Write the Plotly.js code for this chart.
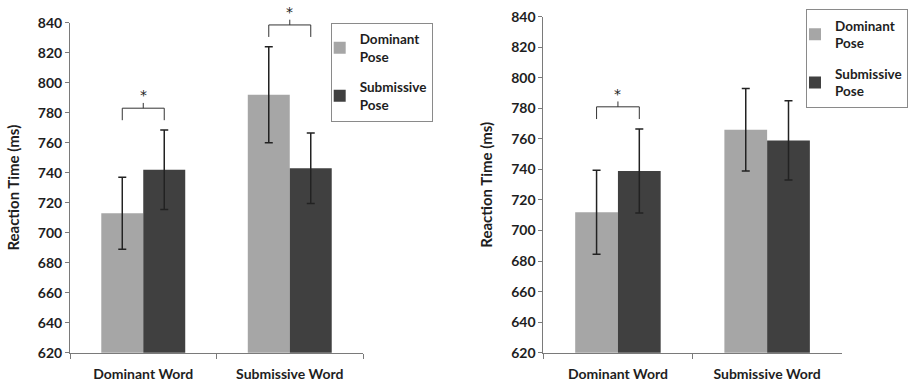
<!DOCTYPE html>
<html>
<head>
<meta charset="utf-8">
<script src="https://cdn.plot.ly/plotly-3.0.1.min.js"></script>
<style>html,body{margin:0;padding:0;background:#fff;}#chart{width:908px;height:384px;}</style>
</head>
<body>
<div id="chart"></div>
<script>
// ---- Data ----
const categories = ['Dominant Word', 'Submissive Word'];
const seriesNames = ['Dominant<br>Pose', 'Submissive<br>Pose'];

// Left panel
const left_dominantPose = [713, 792];
const left_dominantPoseErr = [24, 32];
const left_submissivePose = [742, 743];
const left_submissivePoseErr = [26.5, 23.5];
const left_significant = [true, true];

// Right panel
const right_dominantPose = [712, 766];
const right_dominantPoseErr = [27.5, 27];
const right_submissivePose = [739, 759];
const right_submissivePoseErr = [27.5, 26];
const right_significant = [true, false];

const yRange = [620, 840];
const yTitle = 'Reaction Time (ms)';

// ---- Styles ----
const FONT = 'Lato, Open Sans, DejaVu Sans, sans-serif';
const lightGray = '#a6a6a6';
const darkGray = '#404040';
const axisColor = '#7a7a7a';
const textColor = '#1e1e1e';

function barTrace(name, group, x, y, err, color, xa, ya, legendId) {
  return {
    type: 'bar', name: name, x: x, y: y, legendgroup: group,
    xaxis: xa, yaxis: ya, legend: legendId, showlegend: true,
    marker: {color: color, line: {width: 0}},
    error_y: {type: 'data', array: err, visible: true, color: '#222', thickness: 1.5, width: 4}
  };
}

const data = [
  barTrace(seriesNames[0], 'a', categories, left_dominantPose, left_dominantPoseErr, lightGray, 'x', 'y', 'legend'),
  barTrace(seriesNames[1], 'b', categories, left_submissivePose, left_submissivePoseErr, darkGray, 'x', 'y', 'legend'),
  barTrace(seriesNames[0], 'c', categories, right_dominantPose, right_dominantPoseErr, lightGray, 'x2', 'y2', 'legend2'),
  barTrace(seriesNames[1], 'd', categories, right_submissivePose, right_submissivePoseErr, darkGray, 'x2', 'y2', 'legend2')
];

const bargap = 0.427;
const halfBar = (1 - bargap) / 4; // offset of each bar centre from category centre

// significance brackets
const shapes = [];
const annotations = [];
function addBrackets(xa, ya, dom, domErr, sub, subErr, sig) {
  sig.forEach(function (s, i) {
    if (!s) return;
    const tip = Math.max(dom[i] + domErr[i], sub[i] + subErr[i]);
    const legBottom = tip + 6.5;
    const top = legBottom + 8;
    const frac = v => (v - yRange[0]) / (yRange[1] - yRange[0]);
    const yr = ya + ' domain';
    const line = {color: '#333', width: 1};
    shapes.push({type: 'line', xref: xa, yref: yr, x0: i - halfBar, x1: i - halfBar, y0: frac(legBottom), y1: frac(top), line: line});
    shapes.push({type: 'line', xref: xa, yref: yr, x0: i + halfBar, x1: i + halfBar, y0: frac(legBottom), y1: frac(top), line: line});
    shapes.push({type: 'line', xref: xa, yref: yr, x0: i - halfBar, x1: i + halfBar, y0: frac(top), y1: frac(top), line: line});
    shapes.push({type: 'line', xref: xa, yref: yr, x0: i, x1: i, y0: frac(top), y1: frac(top + 3.5), line: line});
    annotations.push({xref: xa, yref: yr, x: i, y: frac(top + 2), yanchor: 'bottom', text: '*', showarrow: false,
      font: {family: 'DejaVu Sans, sans-serif', size: 14, color: '#222'}});
  });
}
addBrackets('x', 'y', left_dominantPose, left_dominantPoseErr, left_submissivePose, left_submissivePoseErr, left_significant);
addBrackets('x2', 'y2', right_dominantPose, right_dominantPoseErr, right_submissivePose, right_submissivePoseErr, right_significant);

const tickFont = {family: FONT, size: 14, weight: 'bold', color: textColor};
function xAxis(domain, anchor) {
  return {
    domain: domain, anchor: anchor, type: 'category', range: [-0.5, 1.5],
    showline: true, linecolor: axisColor, linewidth: 1,
    ticks: 'outside', tickson: 'boundaries', ticklen: 5, tickcolor: axisColor,
    ticklabelstandoff: 8,
    showgrid: false, zeroline: false, tickfont: tickFont, fixedrange: true
  };
}
function yAxis(domain, anchor) {
  return {
    domain: domain, anchor: anchor, range: yRange, dtick: 20, tick0: 620,
    showline: true, linecolor: axisColor, linewidth: 1,
    ticks: 'outside', ticklen: 4, tickcolor: axisColor,
    showgrid: false, zeroline: false, tickfont: tickFont, fixedrange: true,
    title: {text: yTitle, font: {family: FONT, size: 15, weight: 'bold', color: textColor}, standoff: 14}
  };
}
const legendStyle = {
  xanchor: 'left', yanchor: 'top', bgcolor: '#fff', bordercolor: '#8a8a8a', borderwidth: 1,
  font: {family: FONT, size: 13.5, weight: 'bold', color: textColor}, traceorder: 'grouped',
  tracegroupgap: 10, indentation: -12
};

const layout = {
  width: 908, height: 384,
  margin: {l: 0, r: 0, t: 0, b: 0},
  paper_bgcolor: '#fff', plot_bgcolor: '#fff',
  barmode: 'group', bargap: bargap, bargroupgap: 0,
  xaxis: xAxis([0.0771, 0.3998], 'y'),
  yaxis: yAxis([0.0815, 0.9409], 'x'),
  xaxis2: xAxis([0.5984, 0.9270], 'y2'),
  yaxis2: yAxis([0.0815, 0.9565], 'x2'),
  legend: Object.assign({x: 0.3642, y: 0.941}, legendStyle),
  legend2: Object.assign({x: 0.888, y: 0.9758}, legendStyle),
  shapes: shapes,
  annotations: annotations
};

Plotly.newPlot('chart', data, layout, {displayModeBar: false, staticPlot: true});
</script>
</body>
</html>
